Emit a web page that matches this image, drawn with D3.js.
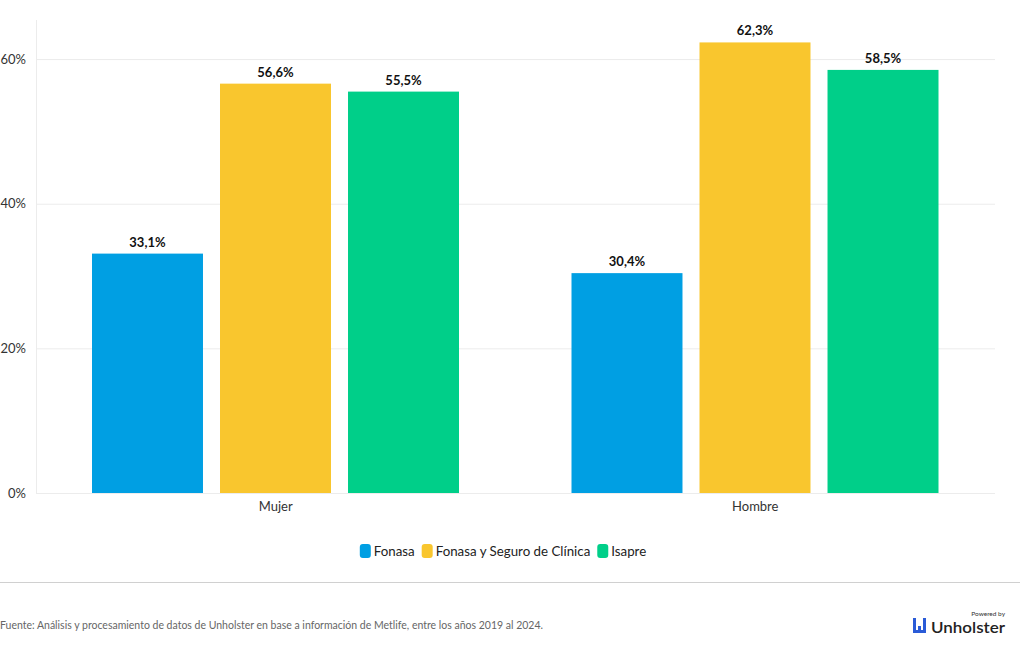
<!DOCTYPE html>
<html><head><meta charset="utf-8">
<script src="https://cdn.jsdelivr.net/npm/d3@7"></script>
<style>
body{margin:0;background:#fff;font-family:"Lato","Noto Sans",sans-serif;}
svg{display:block}
</style></head><body>
<svg id="c" width="1020" height="650"></svg>
<script>
const categories = ["Mujer", "Hombre"];
const seriesNames = ["Fonasa", "Fonasa y Seguro de Clínica", "Isapre"];
const fonasa = [33.1, 30.4];
const fonasaSeguro = [56.6, 62.3];
const isapre = [55.5, 58.5];
const yTicks = [0, 20, 40, 60];
const colors = ["#009fe3", "#f9c62e", "#00cf89"];
const sourceText = "Fuente: Análisis y procesamiento de datos de Unholster en base a información de Metlife, entre los años 2019 al 2024.";

const values = [fonasa, fonasaSeguro, isapre];
const svg = d3.select("#c");
const W = 1020;
const plotL = 36, plotR = 995, plotT = 20, plotB = 493;
const font = '"Lato","Noto Sans",sans-serif';

const y = d3.scaleLinear().domain([0, 65.4]).range([plotB, plotT]);
const x0 = d3.scaleBand().domain(categories).range([plotL, plotR]).padding(0);
const x1 = d3.scaleBand().domain(seriesNames).range([56, 423]).paddingInner(0.133).paddingOuter(0);

// gridlines
svg.append("g").selectAll("line").data(yTicks).join("line")
  .attr("x1", plotL).attr("x2", plotR)
  .attr("y1", d => y(d) + 0.5).attr("y2", d => y(d) + 0.5)
  .attr("stroke", "#ececec").attr("stroke-width", 1);
svg.append("line").attr("x1", plotL + 0.5).attr("x2", plotL + 0.5)
  .attr("y1", plotT).attr("y2", plotB).attr("stroke", "#ececec");

// y axis
const yAxis = d3.axisLeft(y).tickValues(yTicks).tickFormat(d => d + "%").tickSize(0).tickPadding(10);
const ga = svg.append("g").attr("transform", `translate(${plotL},0)`).call(yAxis);
ga.select(".domain").remove();
ga.selectAll("text").attr("font-family", font).attr("font-size", 13).attr("fill", "#333");

// x axis
const xAxis = d3.axisBottom(x0).tickSize(0).tickPadding(9);
const gx = svg.append("g").attr("transform", `translate(0,${plotB})`).call(xAxis);
gx.select(".domain").remove();
gx.selectAll("text").attr("font-family", font).attr("font-size", 13).attr("fill", "#333");

// bars
const groups = svg.append("g").selectAll("g").data(categories).join("g")
  .attr("transform", d => `translate(${x0(d)},0)`);
groups.each(function(cat, ci) {
  const g = d3.select(this);
  seriesNames.forEach((s, si) => {
    const v = values[si][ci];
    g.append("rect").attr("x", x1(s)).attr("width", x1.bandwidth())
      .attr("y", y(v)).attr("height", y(0) - y(v)).attr("fill", colors[si]);
    g.append("text").attr("x", x1(s) + x1.bandwidth() / 2).attr("y", y(v) - 7)
      .attr("text-anchor", "middle").attr("font-family", font).attr("font-weight", "bold")
      .attr("font-size", 13).attr("fill", "#111")
      .text(v.toFixed(1).replace(".", ",") + "%");
  });
});

// legend
const leg = svg.append("g");
let lx = 0;
seriesNames.forEach((s, i) => {
  const it = leg.append("g");
  it.append("rect").attr("x", 0).attr("y", -7).attr("width", 11).attr("height", 14).attr("rx", 3).attr("fill", colors[i]);
  const t = it.append("text").attr("x", 14).attr("y", 5).attr("font-family", font).attr("font-size", 13.3).attr("fill", "#222").text(s);
  const w = 14 + t.node().getComputedTextLength();
  it.attr("transform", `translate(${lx},0)`);
  lx += w + 7;
});
const legW = lx - 7;
leg.attr("transform", `translate(${(360 + 646) / 2 - legW / 2},551)`);

// footer
svg.append("line").attr("x1", 0).attr("x2", W).attr("y1", 582.5).attr("y2", 582.5).attr("stroke", "#d0d0d0");
svg.append("text").attr("x", 0).attr("y", 629).attr("font-family", font).attr("font-size", 11).attr("fill", "#666")
  .attr("textLength", 543).attr("lengthAdjust", "spacingAndGlyphs").text(sourceText);

// logo
const logo = svg.append("g").attr("transform", "translate(913,618)");
logo.append("rect").attr("x", 0).attr("y", 0).attr("width", 3).attr("height", 15).attr("fill", "#2a5bd7");
logo.append("rect").attr("x", 5).attr("y", 8).attr("width", 3).attr("height", 7).attr("fill", "#2a5bd7");
logo.append("rect").attr("x", 10).attr("y", 0).attr("width", 3).attr("height", 15).attr("fill", "#2a5bd7");
logo.append("rect").attr("x", 0).attr("y", 12).attr("width", 13).attr("height", 3).attr("fill", "#2a5bd7");
logo.append("text").attr("x", 18).attr("y", 15).attr("font-family", font).attr("font-size", 15).attr("font-weight", "600").attr("fill", "#222")
  .attr("textLength", 74).attr("lengthAdjust", "spacingAndGlyphs").text("Unholster");
logo.append("text").attr("x", 92).attr("y", -2).attr("text-anchor", "end").attr("font-family", font).attr("font-size", 6.5).attr("fill", "#333").text("Powered by");
</script>
</body></html>
